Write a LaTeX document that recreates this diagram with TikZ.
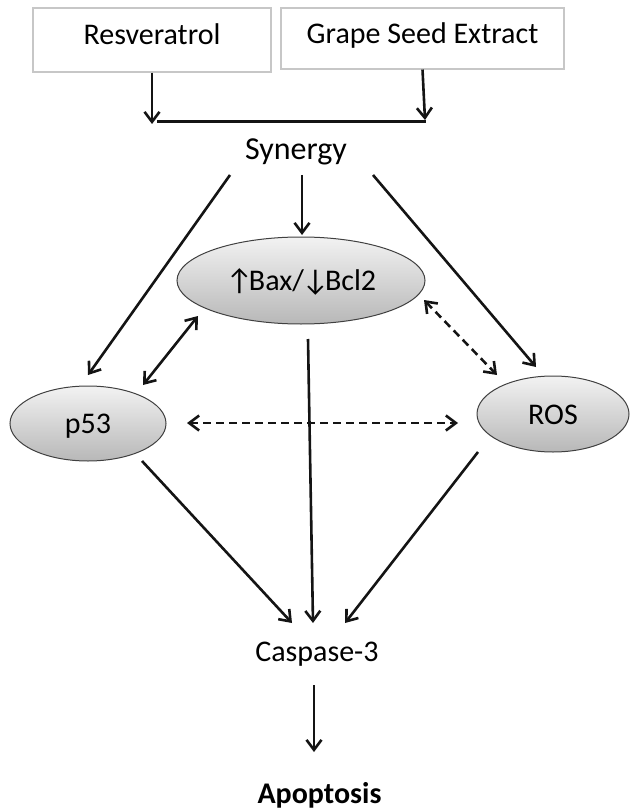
\documentclass[tikz,border=0pt]{standalone}
\usepackage{fontspec}
\setmainfont{Carlito}
\usetikzlibrary{arrows.meta,shapes.geometric}
\tikzset{
  txt/.style={font=\fontsize{30}{36}\selectfont, inner sep=0pt, anchor=base},
  srcbox/.style={draw=black!22, line width=1.1pt, fill=white, inner sep=0pt,
    font=\fontsize{30}{36}\selectfont, text height=20pt, text depth=10pt},
  oval/.style={ellipse, draw=black!75, line width=1pt, top color=black!5, bottom color=black!28,
    inner sep=0pt, font=\fontsize{30}{36}\selectfont, text height=20pt, text depth=0pt},
  tip/.style={Straight Barb[length=10pt,width=15pt]},
  arr/.style={line width=2.6pt, black!92, -{Straight Barb[length=10pt,width=15pt]}},
  darr/.style={line width=2.6pt, black!92, {Straight Barb[length=10pt,width=15pt]}-{Straight Barb[length=10pt,width=15pt]}},
  dsh/.style={line width=2.6pt, black!92, dash pattern=on 8pt off 5pt,
    {Straight Barb[length=10pt,width=15pt]}-{Straight Barb[length=10pt,width=15pt]}}
}
\begin{document}
\begin{tikzpicture}[x=1pt,y=-1pt]
\useasboundingbox (0,0) rectangle (629,810);
% source boxes
\node[srcbox, minimum width=238pt, minimum height=64pt] (res) at (152,40) {Resveratrol};
\node[srcbox, minimum width=283pt, minimum height=61pt] (gse) at (422.5,38.5) {Grape Seed Extract};
% junction
\coordinate (j1) at (152,124);
\coordinate (j2) at (425,120);
\coordinate (b1) at (157,121.5);
\coordinate (b2) at (426,121.5);
\draw[arr] (res.south) -- (j1);
\draw[arr] (gse.south) -- (j2);
\draw[line width=3pt, black!92] (b1) -- (b2);
% synergy
\node[txt, font=\fontsize{32}{38}\selectfont] (syn) at (296,160) {Synergy};
% ovals
\node[oval, minimum width=248pt, minimum height=87pt] (bax) at (301,280.5) {↑\kern-4ptBax/\kern-2pt↓\kern-4ptBcl2};
\node[oval, minimum width=156pt, minimum height=75pt] (p53) at (88,423.5) {p53};
\node[oval, minimum width=152pt, minimum height=76pt] (ros) at (553,414) {ROS};
% synergy arrows
\coordinate (s1) at (230,175); \coordinate (t1) at (88,375);
\coordinate (s2) at (302,175); \coordinate (t2) at (302,235);
\coordinate (s3) at (373,175); \coordinate (t3) at (536,367);
\draw[arr] (s1) -- (t1);
\draw[arr] (s2) -- (t2);
\draw[arr] (s3) -- (t3);
% interactions
\coordinate (bp1) at (198,316); \coordinate (bp2) at (143,385);
\draw[darr] (bp1) -- (bp2);
\coordinate (br1) at (424,300); \coordinate (br2) at (497,375);
\draw[dsh] (br1) -- (br2);
\coordinate (pr1) at (187,423); \coordinate (pr2) at (458,423);
\draw[dsh] (pr1) -- (pr2);
% to caspase
\node[txt] (casp) at (317,661) {Caspase-3};
\coordinate (pc1) at (142,461); \coordinate (pc2) at (292,623);
\coordinate (bc1) at (308,339); \coordinate (bc2) at (313,623);
\coordinate (rc1) at (478,452); \coordinate (rc2) at (345,623);
\draw[arr] (pc1) -- (pc2);
\draw[arr] (bc1) -- (bc2);
\draw[arr] (rc1) -- (rc2);
% apoptosis
\node[txt, font=\fontsize{30}{36}\selectfont\bfseries] (apop) at (319.5,803) {Apoptosis};
\coordinate (ca1) at (314,685); \coordinate (ca2) at (314,752);
\draw[arr] (ca1) -- (ca2);
\end{tikzpicture}
\end{document}
